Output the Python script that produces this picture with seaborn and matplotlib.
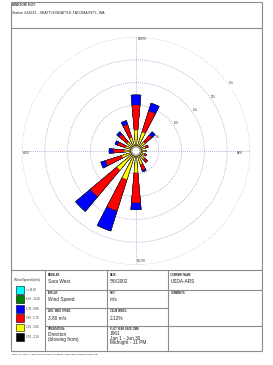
import numpy as np
import pandas as pd
import matplotlib
matplotlib.use("Agg")
import matplotlib.pyplot as plt
import seaborn as sns

# wind rose data: frequency (%) per direction and speed class
directions = ['N', 'NNE', 'NE', 'ENE', 'E', 'ESE', 'SE', 'SSE',
              'S', 'SSW', 'SW', 'WSW', 'W', 'WNW', 'NW', 'NNW']
black_pct = [0.4, 0.4, 0.4, 0.4, 0.4, 0.4, 0.4, 0.4, 0.4, 0.4, 0.4, 0.4, 0.4, 0.4, 0.4, 0.4]
yellow_pct = [4.2, 4.0, 2.2, 1.8, 1.6, 1.6, 2.0, 2.7, 4.4, 6.2, 5.1, 2.9, 2.2, 2.0, 2.2, 2.7]
red_pct = [5.5, 4.8, 2.0, 0.6, 0.2, 0.4, 0.9, 1.3, 6.6, 7.2, 7.6, 3.7, 2.4, 1.8, 2.2, 3.0]
blue_pct = [2.2, 1.8, 0.9, 0.0, 0.0, 0.0, 0.0, 0.4, 1.5, 4.6, 4.2, 1.1, 0.9, 0.6, 0.7, 0.9]
green_pct = [0.0] * 16
cyan_pct = [0.0] * 16

speed_labels = ['>= 11.10', '8.80 - 11.10', '5.70 - 8.80', '3.60 - 5.70', '2.10 - 3.60', '0.50 - 2.10']
speed_colors = ['#00ffff', '#008000', '#0000ff', '#ff0000', '#ffff00', '#000000']
ring_levels = [5, 10, 15, 20, 25]

station = "Station #24233 - SEATTLE/SEATTLE-TACOMA INT'L, WA"
modeler = "Sara West"
date = "5/6/2002"
company = "USDA-ARS"
avg_speed = "3.80 m/s"
calm_winds = "2.12%"

sns.set_style("white")
plt.rcParams['font.family'] = ['Liberation Sans', 'DejaVu Sans']

W, H = 273, 365
fig = plt.figure(figsize=(W / 100, H / 100), dpi=100)

# background axes in pixel coordinates for frame + table
bg = fig.add_axes([0, 0, 1, 1], zorder=0)
bg.set_xlim(0, W)
bg.set_ylim(H, 0)
bg.axis('off')

frame_c = '#8c8c8c'
L, R = 10.5, 261.5

def hline(y, x0=L, x1=R, lw=0.8):
    bg.plot([x0, x1], [y, y], color=frame_c, lw=lw, solid_capstyle='butt')

def vline(x, y0, y1, lw=0.8):
    bg.plot([x, x], [y0, y1], color=frame_c, lw=lw, solid_capstyle='butt')

# outer frame
hline(2)
hline(28)
hline(270)
hline(351)
vline(L, 2, 351)
vline(R, 2, 351)
# table grid
vline(45, 270, 351)
vline(107, 270, 351)
vline(168, 270, 351)
hline(290, 45, R)
hline(308, 45, 168)
hline(326, 45, R)

bg.text(12, 5, "WIND ROSE PLOT:", fontsize=1.9, fontweight='bold', va='center')
bg.text(12, 12.5, station, fontsize=2.6, va='center')

# table cells
lab_kw = dict(fontsize=1.8, fontweight='bold', va='center')
val_kw = dict(fontsize=3.4, va='center')
bg.text(48, 274.5, "MODELER:", **lab_kw)
bg.text(48, 281.5, modeler, **val_kw)
bg.text(109.5, 274.5, "DATE:", **lab_kw)
bg.text(109.5, 281.5, date, **val_kw)
bg.text(170.5, 274.5, "COMPANY NAME:", **lab_kw)
bg.text(170.5, 281.5, company, **val_kw)
bg.text(48, 293, "DISPLAY:", **lab_kw)
bg.text(48, 299.5, "Wind Speed", **val_kw)
bg.text(109.5, 293, "UNIT:", **lab_kw)
bg.text(109.5, 299.5, "m/s", **val_kw)
bg.text(170.5, 293, "COMMENTS:", **lab_kw)
bg.text(48, 311.5, "AVG. WIND SPEED:", **lab_kw)
bg.text(48, 318, avg_speed, **val_kw)
bg.text(109.5, 311.5, "CALM WINDS:", **lab_kw)
bg.text(109.5, 318, calm_winds, **val_kw)
bg.text(48, 328.5, "ORIENTATION:", **lab_kw)
bg.text(48, 334.5, "Direction", **val_kw)
bg.text(48, 339.5, "(blowing from)", **val_kw)
bg.text(109.5, 328.5, "PLOT YEAR-DATE-TIME:", **lab_kw)
bg.text(109.5, 333.5, "1961", **val_kw)
bg.text(109.5, 338, "Jan 1 - Jun 30", **val_kw)
bg.text(109.5, 342.5, "Midnight - 11 PM", **val_kw)

# speed legend
bg.text(14, 280, "Wind Speed (m/s)", fontsize=2.3, va='center')
for i, (lab, col) in enumerate(zip(speed_labels, speed_colors)):
    top = 286 + i * 9.4
    bg.add_patch(plt.Rectangle((16, top), 7.5, 7.8, facecolor=col,
                               edgecolor='black', lw=0.4))
    bg.text(26, top + 3.9, lab, fontsize=1.8, va='center')

bg.text(12, 354, "WRPLOT View - Lakes Environmental Software - www.lakes-environmental.com",
        fontsize=1.7, va='center')

# polar rose
cx, cy, rad = 136, 151, 114
ax = fig.add_axes([(cx - rad) / W, 1 - (cy + rad) / H, 2 * rad / W, 2 * rad / H],
                  projection='polar', zorder=2)
ax.set_facecolor('none')
ax.set_theta_zero_location('N')
ax.set_theta_direction(-1)

theta = np.deg2rad(np.arange(len(directions)) * 22.5)
layers = np.array([black_pct, yellow_pct, red_pct, blue_pct, green_pct, cyan_pct])
cum = layers.cumsum(axis=0)
layer_colors = ['#000000', '#ffff00', '#ff0000', '#0000ff', '#008000', '#00ffff']

# grid: dotted rings and cross
grid_c = '#9a9ad0'
tt = np.linspace(0, 2 * np.pi, 400)
for lev in ring_levels:
    ax.plot(tt, np.full_like(tt, lev), ls=(0, (1, 1.5)), color=grid_c, lw=0.6, zorder=1)
for ang in [0, np.pi / 2]:
    ax.plot([ang, ang + np.pi], [25, 25], ls=(0, (1, 1.5)), color=grid_c, lw=0.6, zorder=1)

# stacked petals drawn outer class first
for k in range(len(layer_colors) - 1, -1, -1):
    df = pd.DataFrame({'theta': theta, 'pct': cum[k]})
    sns.barplot(data=df, x='theta', y='pct', native_scale=True, orient='x',
                width=0.45, color=layer_colors[k], saturation=1, errorbar=None,
                edgecolor='#1a1a1a', linewidth=0.3, ax=ax, zorder=3)

# calm hub
ax.fill(tt, np.full_like(tt, 0.9), color='white', zorder=5)
ax.plot(tt, np.full_like(tt, 0.9), color='#333333', lw=0.4, zorder=6)

ax.set_xlim(0, 2 * np.pi)
ax.set_ylim(0, 25)
ax.set_xticks([])
ax.set_yticks([])
ax.grid(False)
ax.spines['polar'].set_visible(False)
ax.set_xlabel('')
ax.set_ylabel('')

for lev in ring_levels:
    ax.text(np.deg2rad(54), lev + 0.3, f"{lev}%", fontsize=1.8, ha='left', va='center', zorder=7)

bg.text(138, 38.5, "NORTH", fontsize=1.8, va='center')
bg.text(137, 261, "SOUTH", fontsize=1.8, va='center')
bg.text(23, 153.5, "WEST", fontsize=1.8, va='center')
bg.text(237, 153.5, "EAST", fontsize=1.8, va='center')

fig.savefig('out.png', dpi=100)
